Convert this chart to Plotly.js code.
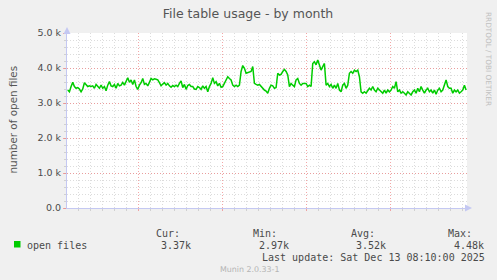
<!DOCTYPE html>
<html>
<head>
<meta charset="utf-8">
<script src="https://cdn.plot.ly/plotly-3.0.1.min.js"></script>
<style>html,body{margin:0;padding:0;background:#f0f0f0;}#chart{width:497px;height:280px;}</style>
</head>
<body>
<div id="chart"></div>
<script>
// ---- data ----
const chartTitle = 'File table usage - by month';
const yAxisTitle = 'number of open files';
const seriesName = 'open files';
const weekLabels = ['Week 46', 'Week 47', 'Week 48', 'Week 49', 'Week 50'];
const weekLabelDates = ['2025-11-12 12:00', '2025-11-19 12:00', '2025-11-26 12:00', '2025-12-03 12:00', '2025-12-10 12:00'];
const yTickVals = [0, 1000, 2000, 3000, 4000, 5000];
const yTickText = ['0.0', '1.0 k', '2.0 k', '3.0 k', '4.0 k', '5.0 k'];
const lastUpdateUTC = Date.UTC(2025, 11, 13, 8, 10, 0);
const sampleStepMinutes = 200;
const openFiles = [
  3370,3320,3470,3590,3470,3420,3440,3400,3320,3400,3580,3510,3470,3490,3470,3490,3420,3530,3470,3420,
  3510,3420,3470,3350,3510,3610,3490,3470,3530,3420,3560,3490,3510,3590,3510,3610,3720,3590,3660,3530,
  3660,3470,3390,3510,3580,3700,3530,3560,3490,3590,3700,3660,3690,3680,3660,3580,3490,3540,3580,3510,
  3560,3490,3450,3500,3470,3510,3470,3560,3630,3440,3530,3390,3500,3530,3470,3470,3400,3390,3470,3440,
  3390,3490,3420,3470,3320,3470,3560,3720,3560,3610,3490,3560,3450,3470,3560,3690,3750,3700,3660,3510,
  3470,3510,3470,3510,3900,4070,3990,3850,3870,3870,3900,4040,3560,3530,3510,3530,3470,3420,3370,3340,
  3280,3420,
  3510,3490,3420,3440,3850,3800,3820,3900,3960,3900,3800,3470,3560,3510,3470,3660,3700,3560,3510,3560,
  3560,3560,3470,3510,3470,4130,4180,4090,4230,4090,3940,4040,4130,3510,3560,3470,3530,3420,3510,3420,
  3560,3370,3320,3510,3560,3420,3510,3850,3900,3850,3940,3900,3940,3750,3320,3280,3320,3280,3370,3420,
  3370,3470,3370,3320,3420,3370,3320,3280,3370,3280,3370,3320,3370,3470,3420,3610,3320,3370,3280,3320,
  3280,3230,3320,3280,3230,3320,3370,3280,3420,3320,3470,3370,3280,3370,3420,3320,3370,3280,3370,3250,
  3370,3420,3320,3370,3510,3660,3470,3420,3420,3280,3370,3320,3370,3280,3320,3370,3510,3370
];
const statHeaders = ['Cur:', 'Min:', 'Avg:', 'Max:'];
const statValues = ['3.37k', '2.97k', '3.52k', '4.48k'];
const lastUpdateText = 'Last update: Sat Dec 13 08:10:00 2025';
const footerText = 'Munin 2.0.33-1';
const sideText = 'RRDTOOL / TOBI OETIKER';

// ---- build ----
const times = openFiles.map((v, i) => lastUpdateUTC - (openFiles.length - 1 - i) * sampleStepMinutes * 60000);
const xRange = ['2025-11-10 02:00', '2025-12-13 10:00'];

const L = 67, R = 467, T = 33, B = 208;
const px = x => (x - L) / (R - L);
const py = y => (B - y) / (B - T);

const textColor = '#4a4a4a';
const mono = 'DejaVu Sans Mono';
const sans = 'DejaVu Sans';
const majorGrid = 'rgba(238,130,130,0.7)';
const minorGrid = '#dcdcdc';
const axisColor = '#c4c8f2';

const annotations = [];
const statHeaderX = [155, 252.7, 350, 447.7];
const statValueX = [160.7, 258, 355.7, 453];
statHeaders.forEach((t, i) => annotations.push({xref:'paper', yref:'paper', x:px(statHeaderX[i]-1.5), y:py(233.3), xanchor:'left', yanchor:'middle', text:t, showarrow:false, font:{family:mono, size:10, color:textColor}}));
statValues.forEach((t, i) => annotations.push({xref:'paper', yref:'paper', x:px(statValueX[i]-1.5), y:py(245.3), xanchor:'left', yanchor:'middle', text:t, showarrow:false, font:{family:mono, size:10, color:textColor}}));
annotations.push({xref:'paper', yref:'paper', x:px(25.2), y:py(245.3), xanchor:'left', yanchor:'middle', text:seriesName, showarrow:false, font:{family:mono, size:10, color:textColor}});
annotations.push({xref:'paper', yref:'paper', x:px(259.8), y:py(257.3), xanchor:'left', yanchor:'middle', text:lastUpdateText, showarrow:false, font:{family:mono, size:10, color:textColor}});
annotations.push({xref:'paper', yref:'paper', x:px(249), y:py(269.3), xanchor:'center', yanchor:'middle', text:footerText, showarrow:false, font:{family:sans, size:7.9, color:'#b4b4b4'}});
annotations.push({xref:'paper', yref:'paper', x:px(12), y:py(119.5), xanchor:'center', yanchor:'middle', text:yAxisTitle, textangle:-90, showarrow:false, font:{family:sans, size:10.4, color:'#555555'}});
annotations.push({xref:'paper', yref:'paper', x:px(489), y:py(59), xanchor:'center', yanchor:'middle', text:sideText, textangle:90, showarrow:false, font:{family:sans, size:7.3, color:'#c0c0c0'}});
// axis arrows
annotations.push({xref:'paper', yref:'paper', x:px(472), y:0, ax:-6, ay:0, text:'', showarrow:true, arrowhead:2, arrowsize:1.4, arrowwidth:1, arrowcolor:axisColor});
annotations.push({xref:'paper', yref:'paper', x:0, y:py(27), ax:0, ay:6, text:'', showarrow:true, arrowhead:2, arrowsize:1.4, arrowwidth:1, arrowcolor:axisColor});

const trace = {
  x: times, y: openFiles, type:'scatter', mode:'lines', name:seriesName,
  line:{color:'#00cc00', width:1.5}, hoverinfo:'skip', xaxis:'x', yaxis:'y'
};

const layout = {
  width:497, height:280,
  margin:{l:L, r:497-R, t:T, b:280-B},
  paper_bgcolor:'#f0f0f0', plot_bgcolor:'#ffffff',
  showlegend:false,
  title:{text:chartTitle, x:248/497, xref:'container', y:1-13.3/280, yref:'container', xanchor:'center', yanchor:'middle', font:{family:sans, size:12.5, color:'#555555'}},
  xaxis:{
    type:'date', range:xRange, tickmode:'linear', tick0:'2025-11-16', dtick:604800000,
    showticklabels:false, showgrid:true, gridcolor:majorGrid, griddash:'1px,2px', gridwidth:1,
    ticks:'outside', ticklen:2, tickcolor:majorGrid,
    showline:true, linecolor:axisColor, linewidth:1, zeroline:false, fixedrange:true,
    minor:{tick0:'2025-11-16', dtick:86400000, showgrid:true, gridcolor:minorGrid, griddash:'1px,2px', gridwidth:1, ticks:'outside', ticklen:2, tickcolor:'#d0d0d0'}
  },
  xaxis2:{
    type:'date', overlaying:'x', anchor:'y', side:'bottom', range:xRange,
    tickmode:'array', tickvals:weekLabelDates, ticktext:weekLabels,
    showgrid:false, ticks:'', showline:false, zeroline:false, fixedrange:true,
    tickfont:{family:sans, size:9.3, color:textColor}
  },
  yaxis:{
    range:[0,5000], tickmode:'array', tickvals:yTickVals, ticktext:yTickText,
    showgrid:true, gridcolor:majorGrid, griddash:'1px,2px', gridwidth:1,
    ticks:'outside', ticklen:3, tickcolor:majorGrid,
    showline:true, linecolor:axisColor, linewidth:1, zeroline:false, fixedrange:true,
    tickfont:{family:sans, size:9.5, color:textColor},
    minor:{tickmode:'linear', tick0:0, dtick:200, showgrid:true, gridcolor:minorGrid, griddash:'1px,2px', gridwidth:1, ticks:'outside', ticklen:2, tickcolor:'#d0d0d0'}
  },
  shapes:[
    {type:'rect', xref:'paper', yref:'paper', x0:px(14), x1:px(20.5), y0:py(247.5), y1:py(241), fillcolor:'#00cc00', line:{width:0}}
  ],
  annotations:annotations
};

Plotly.newPlot('chart', [trace], layout, {displayModeBar:false, staticPlot:true});
</script>
</body>
</html>
